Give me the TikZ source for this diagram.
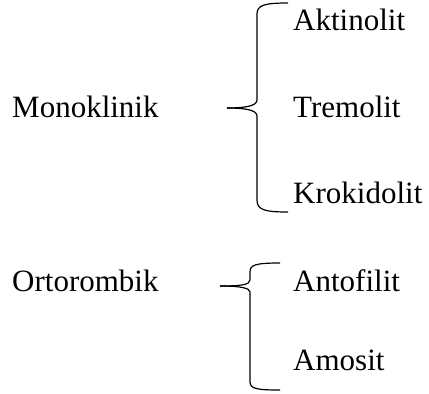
\documentclass[tikz,border=0pt]{standalone}
\usepackage{fontspec}
\setmainfont{Liberation Serif}
\begin{document}
\begin{tikzpicture}[x=1pt,y=-1pt,
  lbl/.style={anchor=base west,inner sep=0pt,font=\fontsize{31}{37}\selectfont},
  brace/.style={line width=1.2pt,black}]
\useasboundingbox (0,0) rectangle (429,394);
\node[lbl] (mono) at (12,117) {Monoklinik};
\node[lbl] (orto) at (12,291) {Ortorombik};
\node[lbl] (akt) at (293,30) {Aktinolit};
\node[lbl] (tre) at (293,117) {Tremolit};
\node[lbl] (kro) at (293,203) {Krokidolit};
\node[lbl] (ant) at (293,291) {Antofilit};
\node[lbl] (amo) at (293,370) {Amosit};
\coordinate (tip1) at (227,108);
\coordinate (tip2) at (220,286);
\draw[brace] (288,3) .. controls (265,3) and (257,5) .. (257,14) -- (257,100)
  .. controls (257,106) and (245,108) .. (tip1);
\draw[brace] (tip1) .. controls (245,108) and (257,110) .. (257,116) -- (257,200)
  .. controls (257,210) and (265,212) .. (288,212);
\draw[brace] (280,263) .. controls (255,263) and (250,265) .. (250,272) -- (250,280)
  .. controls (250,285) and (240,286) .. (tip2);
\draw[brace] (tip2) .. controls (240,286) and (250,288) .. (250,292) -- (250,382)
  .. controls (250,389) and (258,390) .. (280,390);
\end{tikzpicture}
\end{document}
